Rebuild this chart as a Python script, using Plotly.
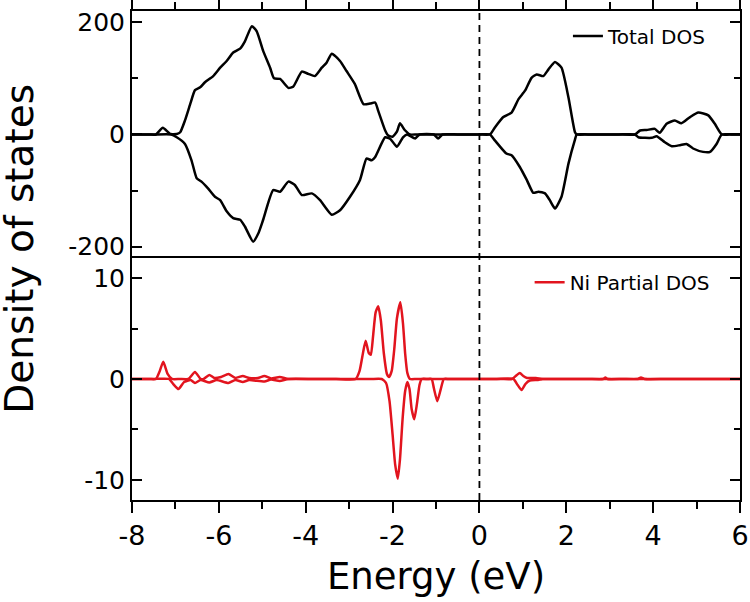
import plotly.graph_objects as go
from plotly.subplots import make_subplots

# ---------------- data ----------------
tot_up_E = [-8.0, -7.6, -7.45, -7.29, -7.12, -6.97, -6.89, -6.78, -6.66, -6.55, -6.43, -6.32, -6.13,
            -5.97, -5.82, -5.67, -5.51, -5.40, -5.24, -5.13, -4.98, -4.82, -4.73, -4.59, -4.40,
            -4.29, -4.09, -3.94, -3.79, -3.63, -3.52, -3.40, -3.21, -3.06, -2.87, -2.67, -2.52,
            -2.40, -2.33, -2.17, -2.10, -2.00, -1.90, -1.83, -1.72, -1.60, -1.45, -1.2, -0.6,
            0.0, 0.24, 0.36, 0.55, 0.74, 0.90, 1.05, 1.20, 1.32, 1.47, 1.59, 1.74, 1.89, 2.05, 2.20,
            2.24, 2.5, 3.2, 3.58, 3.70, 3.85, 4.04, 4.15, 4.31, 4.50, 4.65, 4.85, 5.04, 5.27, 5.42,
            5.58, 5.8, 6.0]
tot_up = [0, 0, 0, 12, 1, 1, 4, 25, 54, 79, 84, 93, 104,
          119, 131, 146, 153, 166, 193, 184, 149, 119, 100, 99, 83,
          85, 112, 108, 104, 119, 128, 144, 131, 113, 90, 54, 55,
          57, 42, 7, -2, -4, 5, 20, 8, 0, 0, 0, 0,
          0, 0, 13, 31, 39, 63, 78, 101, 107, 104, 116, 129, 119, 66, 4,
          0, 0, 0, 0, 7, 8, 10, 3, 19, 25, 20, 31, 39, 34, 19,
          0, 0, 0]

tot_dn_E = [-8.0, -7.5, -7.10, -6.97, -6.78, -6.63, -6.51, -6.40, -6.25, -6.09, -5.97, -5.82, -5.67,
            -5.51, -5.40, -5.21, -5.09, -4.98, -4.75, -4.59, -4.40, -4.25, -4.09, -3.86, -3.67,
            -3.40, -3.21, -2.98, -2.75, -2.60, -2.48, -2.40, -2.17, -2.05, -1.90, -1.76, -1.67,
            -1.48, -1.38, -1.05, -0.95, -0.85, -0.5, 0.0, 0.24, 0.36, 0.62, 0.74, 0.93, 1.09, 1.24,
            1.36, 1.51, 1.62, 1.74, 1.89, 2.05, 2.20, 2.24, 2.5, 3.2, 3.58, 3.66, 3.97, 4.08, 4.27,
            4.43, 4.62, 4.77, 4.92, 5.15, 5.31, 5.46, 5.58, 5.8, 6.0]
tot_dn = [0, 0, 0, -5, -17, -46, -78, -84, -96, -111, -117, -137, -149,
          -152, -164, -191, -176, -152, -99, -102, -84, -90, -108, -105, -117,
          -143, -135, -111, -81, -43, -46, -40, -5, -8, -22, -5, 0,
          -7, 0, 0, -7, 0, 0, 0, 0, -11, -34, -37, -58, -81, -104,
          -102, -105, -117, -132, -111, -52, -9, 0, 0, 0, 0, -5, -6, -3, -14,
          -21, -19, -17, -25, -31, -31, -17, 0, 0, 0]

ni_up_E = [-8.0, -7.6, -7.45, -7.36, -7.28, -7.18, -7.08, -6.9, -6.70, -6.55, -6.42, -6.35, -6.22,
           -6.10, -5.95, -5.78, -5.62, -5.45, -5.30, -5.10, -4.95, -4.80, -4.60, -4.40, -4.0,
           -3.3, -2.85, -2.76, -2.68, -2.62, -2.55, -2.50, -2.45, -2.39, -2.33, -2.27, -2.20,
           -2.13, -2.08, -2.02, -1.96, -1.90, -1.82, -1.76, -1.71, -1.66, -1.60, -1.45, -1.0,
           0.0, 0.5, 0.75, 0.85, 0.93, 1.01, 1.10, 1.30, 1.45, 1.7, 2.5, 2.85, 2.90, 2.95, 3.3,
           3.65, 3.72, 3.80, 4.3, 5.2, 6.0]
ni_up = [0, 0, 0, 0.8, 1.7, 0.5, 0, 0, 0, 0.7, 0, 0, 0.4,
         0.1, 0.2, 0.5, 0.1, 0.3, 0.1, 0.1, 0.3, 0.05, 0.2, 0, 0,
         0, 0, 0.8, 2.6, 3.8, 2.6, 2.4, 4.2, 6.6, 7.2, 5.8, 2.5,
         0.5, 0.2, 0.8, 3.0, 6.0, 7.6, 5.5, 2.5, 0.6, 0, 0, 0,
         0, 0, 0, 0.35, 0.6, 0.3, 0.1, 0.1, 0, 0, 0, 0, 0.15, 0, 0,
         0, 0.15, 0, 0, 0, 0]

ni_dn_E = [-8.0, -7.5, -7.15, -7.05, -6.93, -6.80, -6.65, -6.55, -6.42, -6.22, -6.05, -5.78, -5.62,
           -5.45, -5.30, -4.95, -4.80, -4.60, -4.40, -3.8, -3.0, -2.5, -2.25, -2.15, -2.07, -2.00,
           -1.94, -1.88, -1.83, -1.77, -1.71, -1.66, -1.61, -1.56, -1.50, -1.44, -1.38, -1.33,
           -1.20, -1.10, -1.05, -0.97, -0.89, -0.82, -0.7, -0.2, 0.4, 0.78, 0.88, 0.97, 1.06,
           1.16, 1.35, 1.45, 1.7, 3.0, 4.5, 6.0]
ni_dn = [0, 0, 0, -0.5, -1.0, -0.3, -0.1, -0.4, -0.1, -0.35, -0.1, -0.4, -0.1,
         -0.3, -0.1, -0.25, -0.05, -0.2, 0, 0, 0, 0, 0, -0.4, -2.2, -5.5,
         -8.5, -9.9, -8.0, -4.0, -1.2, -0.3, -1.0, -3.0, -4.0, -2.5, -0.6, 0,
         0, 0, -0.9, -2.2, -1.0, 0, 0, 0, 0, 0, -0.6, -1.1, -0.5,
         -0.15, -0.1, 0, 0, 0, 0, 0]

x_ticks = [-8, -6, -4, -2, 0, 2, 4, 6]
x_ticktext = ["-8", "-6", "-4", "-2", "0", "2", "4", "6"]
top_ticks = [-200, 0, 200]
top_ticktext = ["-200", "0", "200"]
bot_ticks = [-10, 0, 10]
bot_ticktext = ["-10", "0", "10"]

BLACK = "#000000"
RED = "#e2141e"
FONT = "DejaVu Sans"

fig = make_subplots(rows=2, cols=1, shared_xaxes=True, vertical_spacing=0)

line_kw = dict(width=2.5, shape="spline", smoothing=0.5)
fig.add_trace(go.Scatter(x=tot_up_E, y=tot_up, mode="lines", name="Total DOS",
                         line=dict(color=BLACK, **line_kw), legend="legend"), row=1, col=1)
fig.add_trace(go.Scatter(x=tot_dn_E, y=tot_dn, mode="lines", name="Total DOS", showlegend=False,
                         line=dict(color=BLACK, **line_kw)), row=1, col=1)
fig.add_trace(go.Scatter(x=ni_up_E, y=ni_up, mode="lines", name="Ni Partial DOS",
                         line=dict(color=RED, **line_kw), legend="legend2"), row=2, col=1)
fig.add_trace(go.Scatter(x=ni_dn_E, y=ni_dn, mode="lines", name="Ni Partial DOS", showlegend=False,
                         line=dict(color=RED, **line_kw)), row=2, col=1)

split = 0.495
axis_common = dict(showline=True, linecolor="black", linewidth=2, showgrid=False, zeroline=False,
                   tickcolor="black", tickwidth=2, automargin=False)
xminor = dict(dtick=1, ticks="outside", ticklen=7, tickwidth=2, tickcolor="black")

fig.update_layout(
    width=750, height=602,
    margin=dict(l=132, r=10, t=11, b=102, autoexpand=False),
    plot_bgcolor="white", paper_bgcolor="white",
    font=dict(family=FONT, color="black"),
    xaxis=dict(**axis_common, range=[-8, 6], side="top", tickvals=x_ticks, showticklabels=False,
               ticks="outside", ticklen=10, mirror=False, minor=xminor),
    xaxis2=dict(**axis_common, range=[-8, 6], tickvals=x_ticks, ticktext=x_ticktext,
                ticks="outside", ticklen=11, mirror=True,
                tickfont=dict(size=27), minor=xminor,
                title=dict(text="Energy (eV)", font=dict(size=37), standoff=13)),
    yaxis=dict(**axis_common, domain=[split, 1], range=[-220, 220], tickvals=top_ticks,
               ticktext=top_ticktext,
               ticks="inside", ticklen=10, mirror="ticks", tickfont=dict(size=25),
               minor=dict(dtick=100, ticks="inside", ticklen=6, tickwidth=2, tickcolor="black")),
    yaxis2=dict(**axis_common, domain=[0, split], range=[-12, 12], tickvals=bot_ticks,
                ticktext=bot_ticktext,
                ticks="inside", ticklen=10, mirror="ticks", tickfont=dict(size=25),
                minor=dict(dtick=5, ticks="inside", ticklen=6, tickwidth=2, tickcolor="black")),
    legend=dict(x=0.717, y=0.989, xanchor="left", yanchor="top", bgcolor="rgba(0,0,0,0)",
                font=dict(size=20), itemwidth=30),
    legend2=dict(x=0.654, y=0.485, xanchor="left", yanchor="top", bgcolor="rgba(0,0,0,0)",
                 font=dict(size=20), itemwidth=30),
    annotations=[dict(text="Density of states", x=-0.185, y=0.513, xref="paper", yref="paper",
                      textangle=-90, showarrow=False, font=dict(size=39), xanchor="center",
                      yanchor="middle")],
    shapes=[dict(type="line", xref="x", yref="paper", x0=0, x1=0, y0=0, y1=1,
                 line=dict(color="black", width=1.8, dash="7px,5px"))],
)

fig.write_html("out.html", config={"displayModeBar": False},
               post_script="document.body.style.margin='0px';")
